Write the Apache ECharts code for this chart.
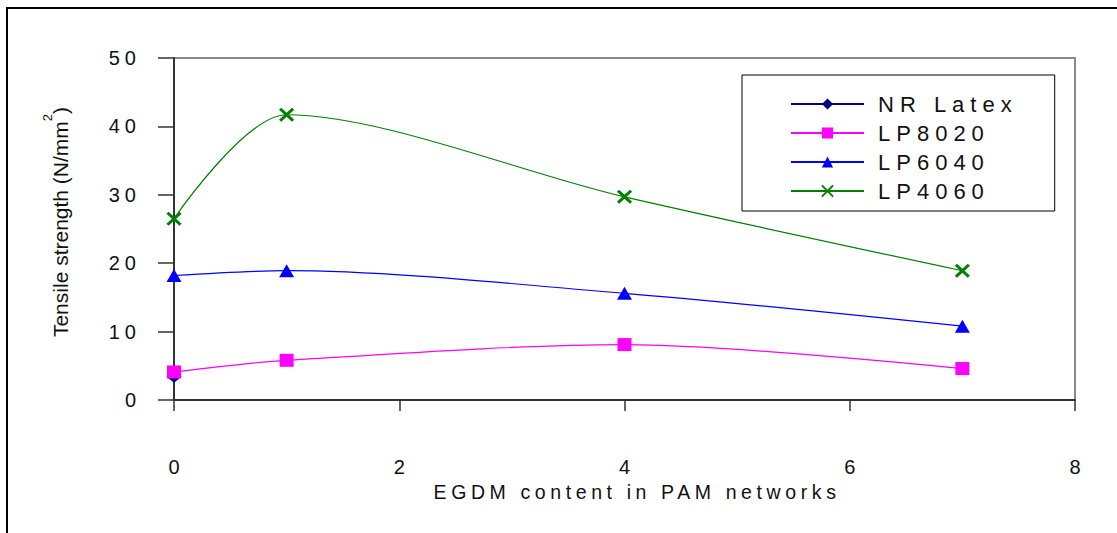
<!DOCTYPE html>
<html><head><meta charset="utf-8">
<script src="https://cdn.jsdelivr.net/npm/echarts@6/dist/echarts.min.js"></script>
<style>
html,body{margin:0;padding:0;background:#fff;}
#c{width:1117px;height:533px;}
#c text[style*="Arial"]{letter-spacing:5px;}
#c text[style*="19.5px"]{letter-spacing:4.6px;}
#c text[style*="22px"]{letter-spacing:6px;}
</style></head><body><div id="c"></div>
<script>
// ---- data ----
const seriesNames = ['NR Latex', 'LP8020', 'LP6040', 'LP4060'];
const egdmContent = [0, 1, 4, 7];
const nrLatex = [3.4];
const lp8020 = [4.1, 5.8, 8.1, 4.6];
const lp6040 = [18.2, 18.9, 15.6, 10.8];
const lp4060 = [26.5, 41.7, 29.7, 18.9];
const xAxisRange = [0, 8, 2];   // min, max, interval
const yAxisRange = [0, 50, 10];
const xTitle = 'EGDM content in PAM networks';
const yTitle = 'Tensile strength (N/mm{s|2})';

const pairs = (vals) => vals.map((v, i) => [egdmContent[i], v]);

const chart = echarts.init(document.getElementById('c'), null, {renderer: 'svg'});
const common = {type: 'line', smooth: 0.3, lineStyle: {width: 1.2}};
chart.setOption({
  animation: false,
  backgroundColor: '#fff',
  graphic: [{
    type: 'rect', z: -10, silent: true,
    shape: {x: 7, y: 8, width: 1200, height: 600},
    style: {fill: 'none', stroke: '#000', lineWidth: 2}
  }],
  grid: {left: 174, right: 42, top: 58, bottom: 133, show: true,
         borderColor: '#8a8a8a', borderWidth: 2, backgroundColor: 'transparent'},
  legend: {
    orient: 'vertical', left: 742, top: 75,
    borderColor: '#000', borderWidth: 1,
    padding: [18, 85, 9, 48], itemGap: 7,
    itemWidth: 73, itemHeight: 14,
    data: seriesNames,
    textStyle: {fontFamily: 'Liberation Sans', fontSize: 22, color: '#111', padding: [0, 0, 0, 9]}
  },
  xAxis: {
    type: 'value', min: xAxisRange[0], max: xAxisRange[1], interval: xAxisRange[2],
    name: xTitle, nameLocation: 'middle', nameGap: 79,
    nameTextStyle: {fontFamily: 'Arial', fontSize: 19.5, color: '#111', padding: [0, 0, 0, 25]},
    axisLine: {lineStyle: {color: '#333', width: 2}},
    axisTick: {show: true, inside: false, length: 11, lineStyle: {color: '#333', width: 1.5}},
    axisLabel: {margin: 57, fontFamily: 'Liberation Sans', fontSize: 20, color: '#111'},
    splitLine: {show: false}
  },
  yAxis: {
    type: 'value', min: yAxisRange[0], max: yAxisRange[1], interval: yAxisRange[2],
    name: yTitle, nameLocation: 'middle', nameGap: 95, nameRotate: 90,
    nameTextStyle: {fontFamily: 'Liberation Sans', fontSize: 21, color: '#111', padding: [0, 0, 0, 14],
      rich: {s: {fontFamily: 'Liberation Sans', fontSize: 13, color: '#111', padding: [0, 0, 25, 0]}}},
    axisLine: {show: true, lineStyle: {color: '#333', width: 2}},
    axisTick: {show: true, inside: false, length: 16, lineStyle: {color: '#333', width: 1.5}},
    axisLabel: {margin: 33, fontFamily: 'Arial', fontSize: 20, color: '#111'},
    splitLine: {show: false}
  },
  series: [
    Object.assign({}, common, {name: seriesNames[0], data: pairs(nrLatex), color: '#000080',
      symbol: 'diamond', symbolSize: [15, 12], z: 1}),
    Object.assign({}, common, {name: seriesNames[1], data: pairs(lp8020), color: '#FF00FF',
      symbol: 'rect', symbolSize: [14, 13], z: 2}),
    Object.assign({}, common, {name: seriesNames[2], data: pairs(lp6040), color: '#0000FF',
      symbol: 'triangle', symbolSize: [15, 13], z: 3}),
    Object.assign({}, common, {name: seriesNames[3], data: pairs(lp4060), color: '#008000',
      symbol: 'path://M0,0L10,10M10,0L0,10', symbolSize: [13, 12], z: 4,
      itemStyle: {color: '#008000', borderColor: '#008000', borderWidth: 3}})
  ]
});
</script></body></html>
